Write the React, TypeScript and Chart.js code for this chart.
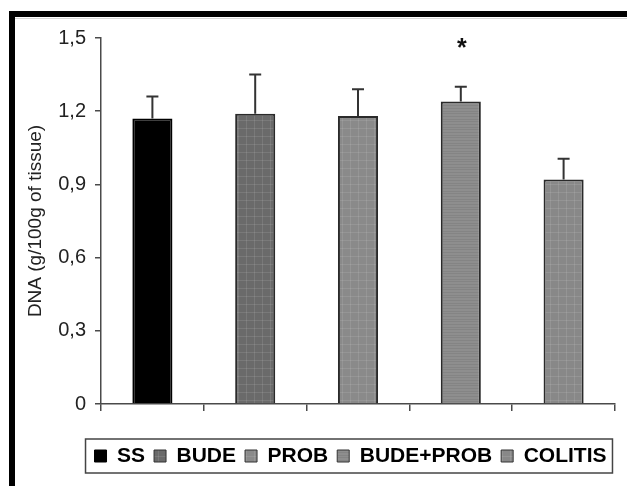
import { useEffect, useRef } from "react";
import { Chart, registerables } from "chart.js";

Chart.register(...registerables);

const categories = ["SS", "BUDE", "PROB", "BUDE+PROB", "COLITIS"];
const dnaMeans = [1.17, 1.19, 1.18, 1.24, 0.92];
const dnaSem = [0.09, 0.16, 0.11, 0.06, 0.085];
const significance = ["", "", "", "*", ""];
const yTickLabels = ["0", "0,3", "0,6", "0,9", "1,2", "1,5"];
const barColors = ["#000000", "#6a6a6a", "#8a8a8a", "#8e8e8e", "#888888"];
const barTextures = ["solid", "grid", "grid", "hstripe", "grid"];
const barBorders = ["#000000", "#2a2a2a", "#2a2a2a", "#2a2a2a", "#2a2a2a"];

const FONT = "'Liberation Sans', Arial, Helvetica, sans-serif";

function makeFill(base: string, kind: string): string | CanvasPattern {
  if (kind === "solid") return base;
  const c = document.createElement("canvas");
  c.width = 8;
  c.height = 8;
  const g = c.getContext("2d")!;
  g.fillStyle = base;
  g.fillRect(0, 0, 8, 8);
  if (kind === "grid") {
    g.fillStyle = "rgba(255,255,255,0.10)";
    g.fillRect(7, 0, 1, 8);
    g.fillRect(0, 7, 8, 1);
  } else if (kind === "hstripe") {
    g.fillStyle = "rgba(0,0,0,0.07)";
    g.fillRect(0, 0, 8, 1);
    g.fillRect(0, 3, 8, 1);
    g.fillRect(0, 6, 8, 1);
  }
  const p = g.createPattern(c, "repeat");
  return p || base;
}

export default function App() {
  const ref = useRef<HTMLCanvasElement>(null);

  useEffect(() => {
    if (!ref.current) return;
    const fills = barColors.map((c, i) => makeFill(c, barTextures[i]));

    const decor = {
      id: "decor",
      beforeDraw(chart: any) {
        const ctx = chart.ctx;
        ctx.save();
        ctx.fillStyle = "#d6d6d6";
        ctx.fillRect(0, 1, chart.width, 1);
        ctx.restore();
      },
      afterLayout(chart: any) {
        const lg = chart.legend;
        if (lg) {
          lg.left += 35.5;
          lg.right += 35.5;
        }
      },
      afterDatasetsDraw(chart: any) {
        const ctx = chart.ctx;
        const yS = chart.scales.y;
        const meta = chart.getDatasetMeta(0);
        ctx.save();
        ctx.strokeStyle = "#333";
        ctx.lineWidth = 2;
        meta.data.forEach((el: any, i: number) => {
          const top = yS.getPixelForValue(dnaMeans[i] + dnaSem[i]);
          ctx.beginPath();
          ctx.moveTo(el.x, el.y);
          ctx.lineTo(el.x, top);
          ctx.moveTo(el.x - 6, top);
          ctx.lineTo(el.x + 6, top);
          ctx.stroke();
          if (significance[i]) {
            ctx.fillStyle = "#111";
            ctx.font = `bold 25px ${FONT}`;
            ctx.textAlign = "center";
            ctx.textBaseline = "alphabetic";
            ctx.fillText(significance[i], el.x + 1, yS.getPixelForValue(1.5) + 17.5);
          }
        });
        ctx.restore();
      },
      afterDraw(chart: any) {
        const lg = chart.legend;
        if (!lg || !lg.legendHitBoxes || !lg.legendHitBoxes.length) return;
        const hb = lg.legendHitBoxes;
        let minL = Infinity;
        let maxR = -Infinity;
        hb.forEach((h: any) => {
          minL = Math.min(minL, h.left);
          maxR = Math.max(maxR, h.left + h.width);
        });
        const cy = hb[0].top + hb[0].height / 2;
        const ctx = chart.ctx;
        ctx.save();
        ctx.strokeStyle = "#444";
        ctx.lineWidth = 1.5;
        ctx.strokeRect(minL - 9, cy - 17, maxR - minL + 15, 34);
        ctx.restore();
      },
    };

    const chart = new Chart(ref.current, {
      type: "bar",
      data: {
        labels: categories,
        datasets: [
          {
            data: dnaMeans,
            backgroundColor: fills as any,
            borderColor: barBorders,
            borderWidth: 2,
            barPercentage: 0.39,
            categoryPercentage: 1,
          },
        ],
      },
      options: {
        responsive: false,
        animation: false,
        layout: { padding: { top: 19.5, right: 12, bottom: 9.5, left: 0 } },
        scales: {
          x: {
            grid: {
              display: true,
              drawOnChartArea: false,
              drawTicks: true,
              tickLength: 7,
              color: "#4a4a4a",
              lineWidth: 1.5,
              offset: true,
            },
            border: { display: true, color: "#4a4a4a", width: 1.5 },
            ticks: { display: false },
            afterFit: (s: any) => {
              s.height = 32.5;
            },
          },
          y: {
            min: 0,
            max: 1.5,
            ticks: {
              stepSize: 0.3,
              callback: (_v: any, i: number) => yTickLabels[i],
              font: { family: FONT, size: 20 },
              color: "#222",
              padding: 9,
            },
            grid: {
              drawOnChartArea: false,
              drawTicks: true,
              tickLength: 6,
              color: "#4a4a4a",
              lineWidth: 1.5,
            },
            border: { display: true, color: "#4a4a4a", width: 1.5 },
            title: {
              display: true,
              text: "DNA (g/100g of tissue)",
              font: { family: FONT, size: 19 },
              color: "#222",
              padding: { top: 9, bottom: 0 },
            },
            afterFit: (s: any) => {
              s.width = 86;
            },
          },
        },
        plugins: {
          tooltip: { enabled: false },
          legend: {
            display: true,
            position: "bottom",
            labels: {
              font: { family: FONT, size: 21, weight: "bold" },
              color: "#111",
              boxWidth: 12,
              boxHeight: 12,
              padding: 9,
              generateLabels: () =>
                categories.map((c, i) => ({
                  text: c,
                  fillStyle: fills[i] as any,
                  strokeStyle: i === 0 ? "#000" : "#333",
                  lineWidth: 1,
                  hidden: false,
                  index: i,
                  datasetIndex: 0,
                })),
            },
            onClick: () => {},
          },
        },
      },
      plugins: [decor],
    });
    return () => chart.destroy();
  }, []);

  return (
    <div
      style={{
        position: "absolute",
        left: 9,
        top: 11,
        width: 612,
        height: 469,
        borderTop: "6px solid #000",
        borderLeft: "6px solid #000",
        background: "#fff",
      }}
    >
      <canvas ref={ref} width={612} height={469} style={{ display: "block" }} />
    </div>
  );
}
